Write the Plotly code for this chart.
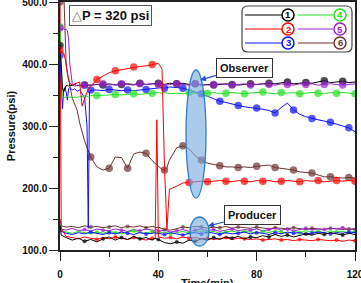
import plotly.graph_objects as go

# ---------------- data ----------------
# observer time grid (min)
TO = [0, 0.5, 1, 1.5, 2, 2.5, 3, 3.5, 4, 5, 6, 7, 8, 9, 10,
      11, 11.5, 12, 12.5,
      15, 17.5, 20, 22.5, 25, 27.5, 30, 32.5, 35, 37.5, 40,
      41.5, 42.5, 43.5, 44.5,
      47.5, 50, 52.5, 55, 57.5, 60, 62.5, 65, 67.5, 70, 72.5, 75, 77.5, 80, 82.5,
      85, 87.5, 90, 92.5, 95, 97.5, 100, 102.5, 105, 107.5, 110, 112.5, 115, 117.5, 120]

obs_1 = [430, 395, 362, 355, 362, 365, 366, 364, 366, 365, 367, 365, 366, 364, 366,
         365, 366, 365, 366,
         367, 366, 368, 366, 367, 368, 367, 369, 367, 368, 369,
         368, 367, 368, 369,
         368, 369, 367, 368, 366, 367, 366, 367, 368, 367, 366, 367, 368, 367, 368,
         369, 368, 370, 371, 368, 369, 370, 369, 371, 373, 370, 371, 372, 370, 371]
obs_2 = [422, 421, 420, 418, 410, 398, 385, 375, 369, 366, 368, 370, 371, 332, 345,
         355, 358, 361, 364,
         375, 381, 386, 389, 391, 393, 395, 396, 397, 399, 401,
         392, 235, 133, 198,
         203, 208, 209, 210, 211, 210, 211, 212, 211, 210, 212, 211, 210, 212, 211,
         212, 210, 211, 212, 211, 210, 212, 211, 212, 210, 211, 212, 211, 212, 211]
obs_3 = [414, 380, 328, 358, 362, 355, 342, 360, 362, 358, 360, 356, 358, 352, 345,
         300, 135, 355, 358,
         358, 357, 359, 358, 357, 358, 357, 358, 359, 360, 361,
         362, 361, 362, 363,
         362, 361, 358, 355, 352, 348, 344, 340, 338, 335, 333, 331, 330, 329, 327,
         325, 321, 330, 337, 326, 319, 315, 312, 310, 308, 306, 303, 300, 297, 291]
obs_4 = [460, 380, 348, 345, 347, 346, 348, 346, 347, 345, 347, 346, 348, 347, 349,
         348, 347, 348, 349,
         349, 349, 350, 351, 350, 351, 352, 351, 352, 353, 354,
         353, 354, 353, 352,
         353, 352, 354, 353, 352, 353, 354, 352, 353, 354, 353, 352, 353, 354, 355,
         353, 352, 354, 353, 354, 352, 353, 354, 353, 352, 354, 353, 354, 353, 352]
obs_5 = [458, 457, 456, 457, 455, 456, 454, 440, 400, 368, 364, 366, 365, 367, 366,
         367, 366, 367, 366,
         367, 368, 366, 367, 368, 367, 366, 368, 367, 368, 367,
         368, 367, 366, 367,
         368, 367, 366, 368, 367, 366, 367, 368, 367, 366, 367, 368, 366, 367, 368,
         367, 366, 368, 367, 366, 368, 367, 368, 366, 367, 368, 367, 366, 367, 368]
obs_6 = [500, 520, 520, 520, 460, 400, 385, 372, 365, 345, 335, 325, 305, 290, 276,
         265, 261, 255, 250,
         234, 229, 232, 250, 249, 232, 255, 258, 256, 244, 236,
         230, 229, 233, 245,
         265, 268, 263, 252, 245, 240, 238, 236, 234, 234, 233, 234, 233, 235, 236,
         237, 233, 232, 231, 229, 226, 225, 224, 221, 218, 218, 217, 216, 217, 216]

# producer time grid (min)
TP = [0, 0.5, 2.5, 5, 7.5, 10, 12.5, 15, 17.5, 20, 22.5, 25, 27.5, 30, 32.5, 35, 37.5,
      38.7, 39.4,
      40, 42.5, 45, 47.5, 50, 52.5, 55, 57.5, 60, 62.5, 65, 67.5, 70, 72.5, 75, 77.5,
      80, 82.5, 85, 87.5, 90, 92.5, 95, 97.5, 100, 102.5, 105, 107.5, 110, 112.5, 115, 117.5, 120]

prod_1 = [140, 124, 120, 116, 119, 114, 117, 113, 118, 121, 116, 120, 117, 122, 118, 120, 116,
          119, 118,
          117, 112, 110, 113, 111, 116, 114, 118, 116, 120, 117, 121, 119, 122, 118, 121,
          120, 123, 121, 125, 122, 124, 121, 123, 126, 124, 127, 125, 128, 126, 124, 127, 125]
prod_2 = [520, 135, 122, 120, 118, 121, 119, 117, 120, 118, 121, 119, 117, 120, 118, 116, 119,
          118, 310,
          121, 119, 120, 118, 121, 119, 120, 118, 119, 117, 118, 120, 117, 119, 118, 117,
          118, 116, 117, 118, 116, 117, 115, 117, 116, 115, 117, 116, 115, 116, 114, 116, 115]
prod_3 = [138, 130, 127, 125, 128, 126, 129, 127, 125, 128, 126, 129, 127, 125, 128, 126, 127,
          128, 126,
          127, 125, 128, 126, 124, 127, 128, 126, 129, 127, 125, 128, 126, 127, 129, 126,
          128, 127, 125, 128, 126, 129, 127, 128, 126, 127, 129, 128, 126, 128, 127, 129, 128]
prod_4 = [142, 132, 129, 127, 130, 128, 126, 129, 127, 130, 128, 126, 129, 131, 128, 127, 130,
          129, 128,
          127, 129, 126, 128, 130, 127, 129, 131, 128, 130, 127, 129, 131, 128, 130, 129,
          127, 130, 128, 131, 129, 127, 130, 128, 131, 129, 130, 128, 131, 129, 130, 128, 130]
prod_5 = [145, 134, 132, 135, 131, 133, 130, 134, 132, 131, 134, 132, 130, 133, 131, 134, 132,
          131, 133,
          130, 132, 129, 131, 133, 130, 132, 134, 131, 133, 130, 132, 134, 131, 133, 132,
          134, 131, 133, 135, 132, 134, 131, 133, 135, 132, 134, 133, 135, 134, 136, 133, 135]
prod_6 = [150, 139, 137, 138, 136, 139, 137, 138, 136, 137, 139, 136, 138, 137, 139, 136, 138,
          137, 136,
          137, 133, 132, 135, 137, 136, 138, 137, 135, 137, 136, 138, 135, 137, 136, 135,
          137, 136, 134, 136, 135, 134, 136, 135, 133, 135, 134, 133, 135, 134, 133, 134, 133]

SERIES_LABELS = ["1", "2", "3", "4", "5", "6"]
X_TICKS = [0, 40, 80, 120]
Y_TICKS = [100, 200, 300, 400, 500]

for arr in (obs_1, obs_2, obs_3, obs_4, obs_5, obs_6):
    assert len(arr) == len(TO), len(arr)
for arr in (prod_1, prod_2, prod_3, prod_4, prod_5, prod_6):
    assert len(arr) == len(TP), len(arr)

# ---------------- style ----------------
COLORS = {"1": "#000000", "2": "#ff0000", "3": "#1010ff",
          "4": "#22e022", "5": "#9a22cc", "6": "#6b3333"}
PHASE = {"1": 2.5, "2": 0.0, "3": 5.0, "4": 0.0, "5": 2.5, "6": 5.0}
FONT = "Liberation Sans, Arial, sans-serif"

obs = {"1": obs_1, "2": obs_2, "3": obs_3, "4": obs_4, "5": obs_5, "6": obs_6}
prod = {"1": prod_1, "2": prod_2, "3": prod_3, "4": prod_4, "5": prod_5, "6": prod_6}


def marker_sizes(times, phase, big, first=True):
    out = []
    for t in times:
        k = (t - phase) / 7.5
        on = (t == 0 and first) or (t >= 10 and abs(k - round(k)) < 1e-6)
        out.append(big if on else 0)
    return out


fig = go.Figure()

for key in ["6", "5", "4", "3", "2", "1"]:
    fig.add_trace(go.Scatter(
        x=TP, y=prod[key], mode="lines+markers",
        line=dict(color=COLORS[key], width=1),
        marker=dict(size=marker_sizes(TP, PHASE[key], 4, first=False),
                    color=COLORS[key], line=dict(width=0)),
        showlegend=False, hoverinfo="skip"))

for key in ["6", "3", "4", "1", "5", "2"]:
    fig.add_trace(go.Scatter(
        x=TO, y=obs[key], mode="lines+markers",
        line=dict(color=COLORS[key], width=1),
        marker=dict(size=marker_sizes(TO, PHASE[key], 7.5),
                    color=COLORS[key], line=dict(width=0)),
        showlegend=False, hoverinfo="skip"))

# ---------------- helpers for pixel placement of decorations ----------------
L, R, T, B, W, H = 60, 6, 2, 33, 361, 283
PW, PH = W - L - R, H - T - B


def xp(px):
    return (px - L) / PW


def yp(py):
    return (H - B - py) / PH


def xd(px):
    return (px - L) / PW * 120


def yd(py):
    return 100 + (H - B - py) / PH * 400


shapes = []
annotations = []

# ellipses
ELL_FILL = "rgba(120,170,225,0.62)"
ELL_LINE = "#2f7fc8"
shapes.append(dict(type="circle", xref="x", yref="y", x0=xd(186), x1=xd(206),
                   y0=yd(198), y1=yd(70), fillcolor=ELL_FILL,
                   line=dict(color=ELL_LINE, width=1.3), layer="above"))
shapes.append(dict(type="circle", xref="x", yref="y", x0=xd(190), x1=xd(209),
                   y0=yd(246), y1=yd(217), fillcolor=ELL_FILL,
                   line=dict(color=ELL_LINE, width=1.3), layer="above"))

# legend box (rounded)
bx0, bx1, by0, by1, rr = 242, 352, 6, 52, 6
path = (f"M {xp(bx0 + rr)},{yp(by0)} L {xp(bx1 - rr)},{yp(by0)} "
        f"Q {xp(bx1)},{yp(by0)} {xp(bx1)},{yp(by0 + rr)} "
        f"L {xp(bx1)},{yp(by1 - rr)} Q {xp(bx1)},{yp(by1)} {xp(bx1 - rr)},{yp(by1)} "
        f"L {xp(bx0 + rr)},{yp(by1)} Q {xp(bx0)},{yp(by1)} {xp(bx0)},{yp(by1 - rr)} "
        f"L {xp(bx0)},{yp(by0 + rr)} Q {xp(bx0)},{yp(by0)} {xp(bx0 + rr)},{yp(by0)} Z")
shapes.append(dict(type="path", xref="paper", yref="paper", path=path,
                   fillcolor="white", line=dict(color="#444", width=1.2), layer="above"))

rows = [15, 29, 43]
cols = [(245, 282, 288), (298, 333, 340)]
for i, key in enumerate(SERIES_LABELS):
    c = cols[i // 3]
    ry = rows[i % 3]
    shapes.append(dict(type="line", xref="paper", yref="paper",
                       x0=xp(c[0]), x1=xp(c[1]), y0=yp(ry), y1=yp(ry),
                       line=dict(color=COLORS[key], width=1), layer="above"))
    shapes.append(dict(type="circle", xref="paper", yref="paper",
                       xsizemode="pixel", ysizemode="pixel",
                       xanchor=xp(c[2]), yanchor=yp(ry), x0=-6, x1=6, y0=-6, y1=6,
                       fillcolor="white", line=dict(color=COLORS[key], width=1.5),
                       layer="above"))
    annotations.append(dict(xref="paper", yref="paper", x=xp(c[2]), y=yp(ry),
                            text=f"<b>{key}</b>", showarrow=False,
                            font=dict(family=FONT, size=9.5, color=COLORS[key]),
                            xanchor="center", yanchor="middle"))

# text boxes
annotations.append(dict(xref="paper", yref="paper", x=xp(110.5), y=yp(15.5),
                        text="<span style='font-weight:normal;color:#777'>△</span><b>P = 320 psi</b>",
                        showarrow=False, font=dict(family=FONT, size=13, color="#111"),
                        bordercolor="#555", borderwidth=1, borderpad=2, bgcolor="white",
                        xanchor="center", yanchor="middle"))
annotations.append(dict(xref="x", yref="y", x=xd(200), y=yd(80),
                        ax=44.5, ay=-12.5, axref="pixel", ayref="pixel",
                        text="<b>Observer</b>", showarrow=True, arrowhead=2, arrowsize=1,
                        arrowwidth=1.2, arrowcolor="#2a4fd0",
                        font=dict(family=FONT, size=11, color="#111"),
                        bordercolor="#333", borderwidth=1, borderpad=3, bgcolor="white"))
annotations.append(dict(xref="x", yref="y", x=xd(208), y=yd(226),
                        ax=44, ay=-11, axref="pixel", ayref="pixel",
                        text="<b>Producer</b>", showarrow=True, arrowhead=2, arrowsize=1,
                        arrowwidth=1.2, arrowcolor="#2a4fd0",
                        font=dict(family=FONT, size=11, color="#111"),
                        bordercolor="#333", borderwidth=1, borderpad=3, bgcolor="white"))

# x-axis title placed below the tick labels (as in the reference, partly past the bottom edge)
annotations.append(dict(xref="paper", yref="paper", x=0.5, y=yp(275),
                        text="<b>Time(min)</b>", showarrow=False,
                        font=dict(family=FONT, size=11, color="#111"),
                        xanchor="center", yanchor="top"))

axis_common = dict(showline=True, linecolor="#222", linewidth=1.5, mirror=True,
                   ticks="outside", ticklen=9, tickwidth=1.2, tickcolor="#222",
                   showgrid=False, zeroline=False, ticklabeloverflow="allow",
                   automargin=False,
                   tickfont=dict(family=FONT, size=10, color="#111", weight="bold"))

fig.update_layout(
    width=W, height=H, margin=dict(l=L, r=R, t=T, b=B, autoexpand=False),
    paper_bgcolor="white", plot_bgcolor="white",
    showlegend=False, shapes=shapes, annotations=annotations,
    xaxis=dict(range=[0, 120], tickvals=X_TICKS, ticklabelstandoff=5,
               minor=dict(dtick=20, tick0=0, ticks="outside", ticklen=5, tickcolor="#222"),
               **axis_common),
    yaxis=dict(range=[100, 500], tickvals=Y_TICKS, tickformat=".1f",
               minor=dict(dtick=50, tick0=100, ticks="outside", ticklen=5, tickcolor="#222"),
               title=dict(text="Pressure(psi)", standoff=4,
                          font=dict(family=FONT, size=11, color="#111", weight="bold")),
               **axis_common),
)

fig.write_html("out.html")
